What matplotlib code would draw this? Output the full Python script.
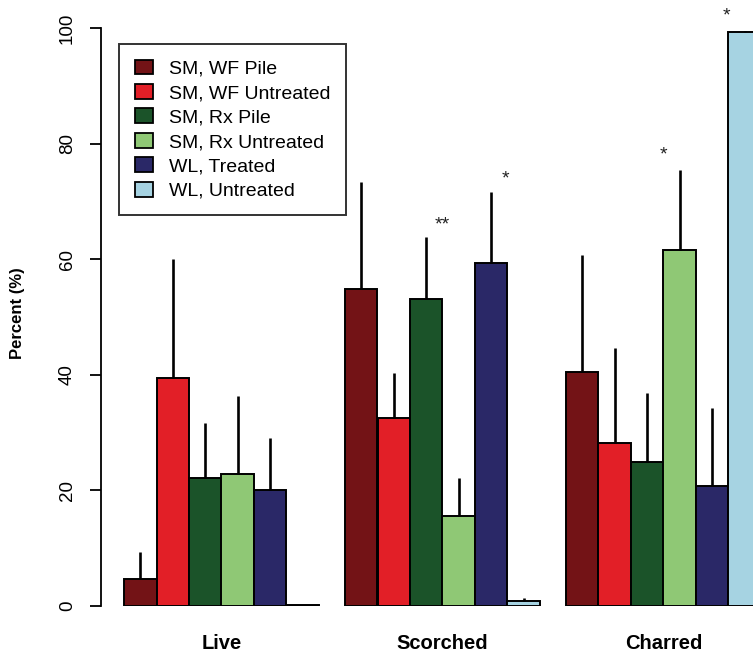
import matplotlib
matplotlib.use("Agg")
import matplotlib.pyplot as plt
from matplotlib.patches import Patch
import numpy as np

plt.rcParams['font.family'] = ['Liberation Sans', 'DejaVu Sans']

categories = ["Live", "Scorched", "Charred"]
series = ["SM, WF Pile", "SM, WF Untreated", "SM, Rx Pile",
          "SM, Rx Untreated", "WL, Treated", "WL, Untreated"]
colors = ["#731316", "#E21F27", "#1B5329", "#8FC875", "#2A2867", "#A6D3E2"]

# mean values per series (rows) for Live, Scorched, Charred
wf_pile        = [4.7, 54.9, 40.5]
wf_untreated   = [39.5, 32.6, 28.2]
rx_pile        = [22.2, 53.1, 24.9]
rx_untreated   = [22.9, 15.6, 61.6]
wl_treated     = [20.1, 59.4, 20.8]
wl_untreated   = [0.2, 0.9, 99.4]
# upper end of error bars
wf_pile_up      = [9.3, 73.4, 60.8]
wf_untreated_up = [60.0, 40.3, 44.7]
rx_pile_up      = [31.7, 63.9, 36.9]
rx_untreated_up = [36.3, 22.1, 75.5]
wl_treated_up   = [29.0, 71.6, 34.3]
wl_untreated_up = [None, 1.3, 99.6]

# significance annotations: (group index, position within group in bar units, y value, text)
annotations = [(1, 3.0, 66.0, "**"), (1, 4.95, 73.9, "*"),
               (2, 3.0, 78.1, "*"), (2, 4.95, 102.2, "*")]

means = [wf_pile, wf_untreated, rx_pile, rx_untreated, wl_treated, wl_untreated]
uppers = [wf_pile_up, wf_untreated_up, rx_pile_up, rx_untreated_up, wl_treated_up, wl_untreated_up]

W, H = 753, 659
fig = plt.figure(figsize=(W / 100, H / 100), dpi=100)
px = 32.5          # pixels per bar width
x0_pix = 124       # pixel of first bar left edge
left_pix = 101
ylim_top = 606 / 5.777
xlim_right = 21.0
ax = fig.add_axes([left_pix / W, 53 / H,
                   (x0_pix + px * xlim_right - left_pix) / W, 606 / H])
ax.set_xlim(-(x0_pix - left_pix) / px, xlim_right)
ax.set_ylim(0, ylim_top)

nser = len(series)
period = nser + 0.8
for i in range(nser):
    xs = np.arange(len(categories)) * period + i + 0.5
    ax.bar(xs, means[i], width=1.0, color=colors[i], edgecolor="black",
           linewidth=1.4, zorder=2)
    for x, m, u in zip(xs, means[i], uppers[i]):
        if u is not None:
            ax.plot([x, x], [m, u], color="black", linewidth=1.9,
                    solid_capstyle="butt", zorder=3)

for g, pos, yv, txt in annotations:
    ax.text(g * period + pos, yv, txt, ha="center", va="center",
            fontsize=14, color="#222222", zorder=4)

centers = np.arange(len(categories)) * period + nser / 2
ax.set_xticks(centers)
ax.set_xticklabels(categories, fontsize=14.5, fontweight="bold")
ax.tick_params(axis="x", length=0, pad=20)

ax.set_yticks([0, 20, 40, 60, 80, 100])
ax.set_yticklabels(["0", "20", "40", "60", "80", "100"], fontsize=13.5,
                   rotation=90, va="center")
ax.tick_params(axis="y", length=8, width=1.3, pad=10)

for s in ["top", "right", "bottom"]:
    ax.spines[s].set_visible(False)
ax.spines["left"].set_bounds(0, 100)
ax.spines["left"].set_linewidth(1.3)

fig.text(18 / W, 1 - 313 / H, "Percent (%)", rotation=90, ha="center",
         va="center", fontsize=12, fontweight="bold")

handles = [Patch(facecolor=c, edgecolor="black", linewidth=1.3) for c in colors]
leg = ax.legend(handles, series, loc="upper left",
                bbox_to_anchor=(119 / W, 1 - 44 / H),
                bbox_transform=fig.transFigure, borderaxespad=0,
                fontsize=14, frameon=True, fancybox=False,
                handlelength=0.95, handleheight=0.8, handletextpad=0.8,
                labelspacing=0.32, borderpad=0.8)
leg.get_frame().set_edgecolor("black")
leg.get_frame().set_linewidth(1.4)

fig.savefig("out.png", dpi=100)
